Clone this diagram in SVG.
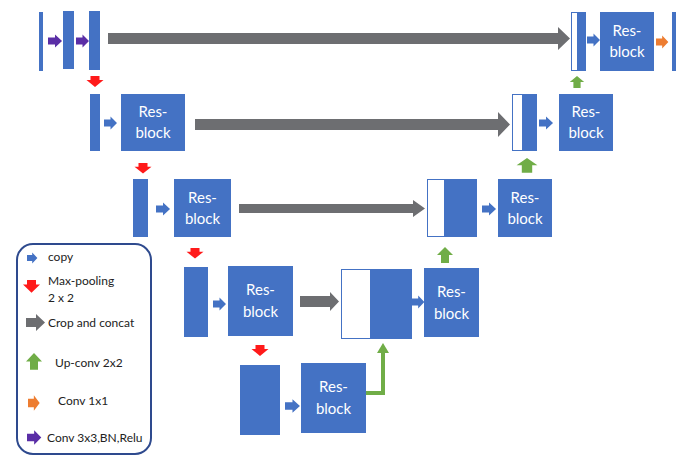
<svg xmlns="http://www.w3.org/2000/svg" width="676" height="456" viewBox="0 0 676 456">
<style>
.blk{fill:#4472C4}
.wht{fill:#ffffff;stroke:#4472C4;stroke-width:1}
.rt{font-family:Lato,"Open Sans","Liberation Sans",sans-serif;font-size:15px;fill:#ffffff;text-anchor:middle}
.lt{font-family:Lato,"Open Sans","Liberation Sans",sans-serif;font-size:12px;fill:#222222}
.gray{fill:#6D6E71}
.cp{fill:#4472C4}
.mp{fill:#FF1A1A}
.up{fill:#70AD47}
.c1{fill:#ED7D31}
.c3{fill:#5A2EA6}
</style>
<defs>
<path id="ra" d="M0,-3.5 H6.5 V-6.5 L13,0 L6.5,6.5 V3.5 H0 Z"/>
<path id="da" d="M-4.5,0 H4.5 V4 H8.5 L0,11 L-8.5,4 H-4.5 Z"/>
<path id="ua" d="M-4,14 V7 H-8 L0,0 L8,7 H4 V14 Z"/>
</defs>

<g id="connectors">
  <!-- crop and concat -->
  <path class="gray" d="M108,33 H558 V27 L570,38.5 L558,50 V44 H108 Z"/>
  <path class="gray" d="M195,119 H498 V112 L510,124.5 L498,137 V130 H195 Z"/>
  <path class="gray" d="M239,204 H413 V200 L425,208.5 L413,217 V213 H239 Z"/>
  <path class="gray" d="M300,296 H330 V292 L339,301.5 L330,311 V307 H300 Z"/>
  <!-- conv 3x3 -->
  <use href="#ra" class="c3" transform="translate(48,41) scale(1.08,1)"/>
  <use href="#ra" class="c3" transform="translate(76,41)"/>
  <!-- copy -->
  <use href="#ra" class="cp" transform="translate(587,40)"/>
  <use href="#ra" class="cp" transform="translate(104,123)"/>
  <use href="#ra" class="cp" transform="translate(539,123) scale(1.08,1)"/>
  <use href="#ra" class="cp" transform="translate(156,209) scale(1.08,1)"/>
  <use href="#ra" class="cp" transform="translate(482,209) scale(1.08,1)"/>
  <use href="#ra" class="cp" transform="translate(213,304)"/>
  <use href="#ra" class="cp" transform="translate(412,302) scale(0.95,1)"/>
  <use href="#ra" class="cp" transform="translate(285,406) scale(1.15,1.05)"/>
  <!-- conv 1x1 -->
  <use href="#ra" class="c1" transform="translate(656,42) scale(0.95,1)"/>
  <!-- max pooling -->
  <use href="#da" class="mp" transform="translate(95,76)"/>
  <use href="#da" class="mp" transform="translate(143,163) scale(1,0.95)"/>
  <use href="#da" class="mp" transform="translate(195,248) scale(1,0.95)"/>
  <use href="#da" class="mp" transform="translate(260,345)"/>
  <!-- up conv -->
  <use href="#ua" class="up" transform="translate(577,76) scale(0.9,0.85)"/>
  <use href="#ua" class="up" transform="translate(527,158) scale(1.3,1.05)"/>
  <use href="#ua" class="up" transform="translate(445,247) scale(1,1.15)"/>
  <polyline points="366,393 383,393 383,352" fill="none" stroke="#70AD47" stroke-width="4"/>
  <path class="up" d="M377,353 L383,343 L389,353 Z"/>
</g>

<g id="input-bars">
  <rect class="blk" x="39" y="12" width="4" height="59"/>
  <rect class="blk" x="63" y="11" width="11" height="58"/>
  <rect class="blk" x="89" y="11" width="11" height="59"/>
</g>
<g id="enc2-bar"><rect class="blk" x="90" y="94" width="10" height="57"/></g>
<g id="enc3-bar"><rect class="blk" x="133" y="179" width="15" height="58"/></g>
<g id="enc4-bar"><rect class="blk" x="184" y="267" width="24" height="70"/></g>
<g id="enc5-bar"><rect class="blk" x="240" y="365" width="40" height="70"/></g>

<g id="rb-enc2"><rect class="blk" x="121" y="94" width="64" height="57"/><text class="rt" x="153" y="117">Res-</text><text class="rt" x="153" y="138">block</text></g>
<g id="rb-enc3"><rect class="blk" x="174" y="179" width="57" height="58"/><text class="rt" x="202.5" y="202.5">Res-</text><text class="rt" x="202.5" y="223.5">block</text></g>
<g id="rb-enc4"><rect class="blk" x="228" y="266" width="65" height="70"/><text class="rt" x="260.5" y="295">Res-</text><text class="rt" x="260.5" y="317">block</text></g>
<g id="rb-bottom"><rect class="blk" x="301" y="363" width="65" height="70"/><text class="rt" x="333.5" y="392">Res-</text><text class="rt" x="333.5" y="414">block</text></g>

<g id="concat4"><rect class="wht" x="341.5" y="269.5" width="29" height="69"/><rect class="blk" x="370" y="269" width="42" height="70"/></g>
<g id="rb-dec4"><rect class="blk" x="424" y="268" width="55" height="69"/><text class="rt" x="451.5" y="297">Res-</text><text class="rt" x="451.5" y="319">block</text></g>
<g id="concat3"><rect class="wht" x="427.5" y="179.5" width="17" height="57"/><rect class="blk" x="444" y="179" width="33" height="58"/></g>
<g id="rb-dec3"><rect class="blk" x="498" y="179" width="54" height="58"/><text class="rt" x="525" y="202.5">Res-</text><text class="rt" x="525" y="223.5">block</text></g>
<g id="concat2"><rect class="wht" x="512.5" y="94.5" width="10" height="56"/><rect class="blk" x="522" y="94" width="15" height="57"/></g>
<g id="rb-dec2"><rect class="blk" x="559" y="94" width="54" height="57"/><text class="rt" x="586" y="117">Res-</text><text class="rt" x="586" y="138">block</text></g>
<g id="concat1"><rect class="wht" x="571.5" y="12.5" width="6" height="58"/><rect class="blk" x="577" y="12" width="9" height="59"/></g>
<g id="rb-dec1"><rect class="blk" x="600" y="12" width="54" height="59"/><text class="rt" x="627" y="36">Res-</text><text class="rt" x="627" y="57">block</text></g>
<g id="output-bar"><rect class="blk" x="672" y="12" width="6" height="59"/></g>

<g id="legend">
  <rect x="17" y="244" width="134" height="210" rx="16" ry="16" fill="none" stroke="#2E4A8E" stroke-width="2"/>
  <use href="#ra" class="cp" transform="translate(27,258) scale(0.8,0.85)"/>
  <text class="lt" x="48" y="261">copy</text>
  <use href="#da" class="mp" transform="translate(31.5,280) scale(1,1.15)"/>
  <text class="lt" x="48" y="285">Max-pooling</text>
  <text class="lt" x="48" y="302">2 x 2</text>
  <path class="gray" d="M26,318 H36 V314 L45,322.5 L36,331 V327 H26 Z"/>
  <text class="lt" x="48" y="327">Crop and concat</text>
  <use href="#ua" class="up" transform="translate(34,353) scale(1,1.2)"/>
  <text class="lt" x="55" y="367">Up-conv 2x2</text>
  <use href="#ra" class="c1" transform="translate(28,403) scale(0.9,1.2)"/>
  <text class="lt" x="58" y="405">Conv 1x1</text>
  <use href="#ra" class="c3" transform="translate(27,437.5) scale(1.1,1.1)"/>
  <text class="lt" x="47" y="442">Conv 3x3,BN,Relu</text>
</g>
</svg>
